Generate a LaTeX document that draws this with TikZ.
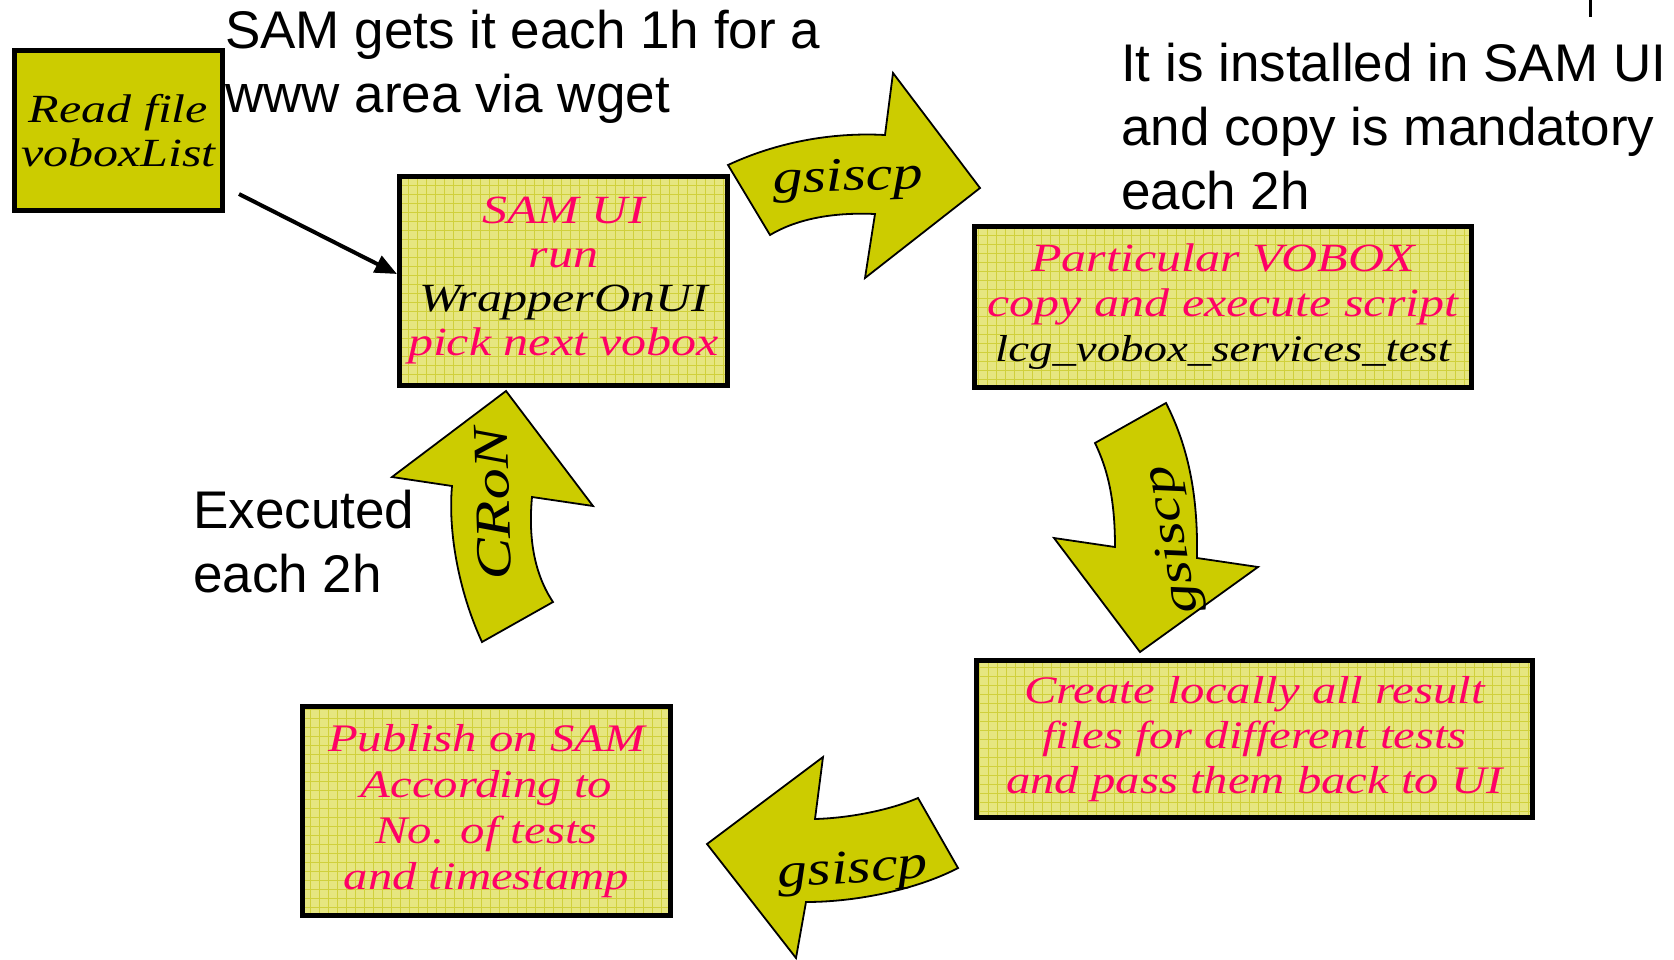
\documentclass[tikz,border=0pt]{standalone}
\usepackage{fontspec}
\setmainfont{Liberation Sans}
\newfontfamily\cali{Liberation Serif}[FakeStretch=1.25]
\usetikzlibrary{arrows.meta}
\definecolor{arrowfill}{RGB}{204,204,0}
\definecolor{boxfill}{RGB}{230,230,128}
\definecolor{gridc}{RGB}{208,208,60}
\definecolor{pinkc}{RGB}{255,0,102}
\tikzset{
  gridbox/.style={draw=black, line width=5pt, fill=boxfill, align=center, inner sep=0pt,
    text=pinkc,
    path picture={\draw[gridc, line width=0.8pt, step=9pt]
      (path picture bounding box.south west) grid (path picture bounding box.north east);}},
  plainbox/.style={draw=black, line width=5pt, fill=arrowfill, align=center, inner sep=0pt, text=black},
  barrow/.style={fill=arrowfill, draw=black, line width=1.8pt, line join=miter},
  atext/.style={font=\cali\itshape\fontsize{48}{54}\selectfont, text=black, inner sep=0pt},
  note/.style={font=\fontsize{53}{64}\selectfont, align=left, anchor=north west, inner sep=0pt, text=black},
  conn/.style={line width=4pt, -{Triangle[length=22pt,width=18pt]}}
}
\begin{document}
\begin{tikzpicture}[x=1pt,y=-1pt]
\useasboundingbox (0,0) rectangle (1674,959);

% boxes
\node[plainbox, minimum width=208pt, minimum height=160pt,
  font=\cali\itshape\fontsize{40}{44}\selectfont] (b1) at (118.5,130.5) {Read file\\voboxList};
\node[gridbox, minimum width=328pt, minimum height=209pt,
  font=\cali\itshape\fontsize{40}{44}\selectfont] (b2) at (563.5,281)
  {SAM UI\\run\\\textcolor{black}{WrapperOnUI}\\pick next vobox};
\node[gridbox, minimum width=497pt, minimum height=161pt,
  font=\cali\itshape\fontsize{40}{45}\selectfont] (b3) at (1223,307)
  {Particular VOBOX\\copy and execute script\\\textcolor{black}{\fontsize{37.5}{45}\selectfont lcg\_vobox\_services\_test}};
\node[gridbox, minimum width=556pt, minimum height=157pt,
  font=\cali\itshape\fontsize{39}{45}\selectfont] (b4) at (1254.5,739)
  {Create locally all result\\files for different tests\\and pass them back to UI};
\node[gridbox, minimum width=368pt, minimum height=209pt,
  font=\cali\itshape\fontsize{39}{46}\selectfont] (b5) at (486.5,811)
  {Publish on SAM\\According to\\No. of tests\\and timestamp};

% connector
\coordinate (c0) at (239,194);
\draw[conn] (c0) -- ([yshift=7pt]b2.west);

% block arrows
\draw[barrow] (728,165) .. controls (775,143) and (830,132) .. (885,135) -- (893,73) -- (980,188)
  -- (865,278) -- (875,214) .. controls (830,212) and (795,220) .. (770,235) -- cycle;
\node[atext, rotate=2] (g1) at (848,180) {gsiscp};

\draw[barrow] (1095,443) -- (1166,403) .. controls (1190,450) and (1198,500) .. (1197,558)
  -- (1258,567) -- (1140,652) -- (1054,538) -- (1115,547) .. controls (1115,500) and (1108,470) .. (1095,443) -- cycle;
\node[atext, rotate=100] (g2) at (1174,540) {gsiscp};

\draw[barrow] (506,391) -- (593,506) -- (532,497) .. controls (528,540) and (535,575) .. (553,602)
  -- (482,642) .. controls (458,590) and (448,530) .. (452,486) -- (392,477) -- cycle;
\node[atext, rotate=92, font=\cali\itshape\fontsize{50}{54}\selectfont] (cr) at (493,504) {CRoN};

\draw[barrow] (707,844) -- (823,757) -- (815,819) .. controls (850,818) and (890,810) .. (918,798)
  -- (958,868) .. controls (920,888) and (860,902) .. (806,902) -- (796,958) -- cycle;
\node[atext, rotate=4] (g3) at (853,872) {gsiscp};

% notes
\node[note] (t1) at (225,3.2) {\strut SAM gets it each 1h for a\\www area via wget};
\node[note] (t2) at (1121,36.2) {\strut It is installed in SAM UI\\and copy is mandatory\\each 2h};
\node[note] (t3) at (193,483.2) {\strut Executed\\each 2h};

% fragment at top right
\draw[line width=3pt] (1590,0) -- (1590,17);
\end{tikzpicture}
\end{document}
